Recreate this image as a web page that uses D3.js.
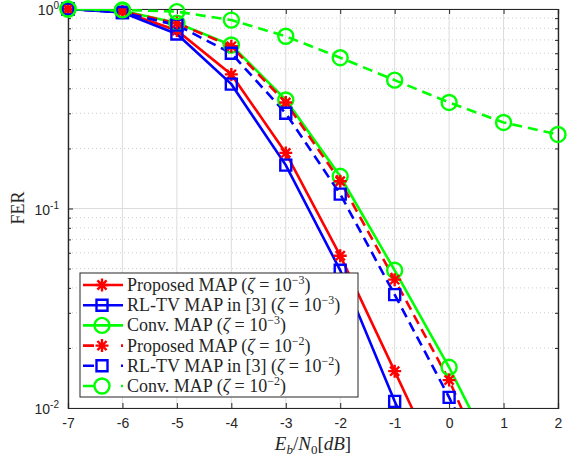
<!DOCTYPE html>
<html>
<head>
<meta charset="utf-8">
<script src="https://cdn.jsdelivr.net/npm/d3@7"></script>
<style>
  body { margin: 0; background: #fff; }
  svg { display: block; }
</style>
</head>
<body>
<div id="canvas"></div>
<script>
// E_b/N_0 values (dB)
var snrShort = [-7, -6, -5, -4, -3, -2, -1, 0];
var snrLong = [-7, -6, -5, -4, -3, -2, -1, 0, 1];
var snrConv = [-7, -6, -5, -4, -3, -2, -1, 0, 1, 2];

// FER, zeta = 1e-3 (solid)
var propA = [1.0, 0.97, 0.78, 0.47, 0.19, 0.058, 0.0153, 0.0040];
var rltvA = [1.0, 0.96, 0.75, 0.42, 0.165, 0.049, 0.0108, 0.0027];
var convA = [1.0, 0.98, 0.85, 0.66, 0.35, 0.145, 0.049, 0.016, 0.0046];
// FER, zeta = 1e-2 (dashed)
var propB = [1.0, 0.97, 0.85, 0.65, 0.34, 0.137, 0.044, 0.0138, 0.0033];
var rltvB = [1.0, 0.96, 0.83, 0.60, 0.30, 0.118, 0.037, 0.0113, 0.0032];
var convB = [1.0, 0.99, 0.97, 0.88, 0.73, 0.57, 0.44, 0.34, 0.27, 0.235];

var xTicks = [-7, -6, -5, -4, -3, -2, -1, 0, 1, 2];
var yTicks = [0.01, 0.1, 1];
var yTickExp = ['-2', '-1', '0'];

var series = [
    {name: 'Proposed MAP', exp: '3', x: snrShort, y: propA, color: '#ff0000', dash: null, marker: 'star'},
    {name: 'RL-TV MAP in [3]', exp: '3', x: snrShort, y: rltvA, color: '#0000ff', dash: null, marker: 'square'},
    {name: 'Conv. MAP', exp: '3', x: snrLong, y: convA, color: '#00ff00', dash: null, marker: 'circle'},
    {name: 'Proposed MAP', exp: '2', x: snrLong, y: propB, color: '#ff0000', dash: '10,6', marker: 'star'},
    {name: 'RL-TV MAP in [3]', exp: '2', x: snrLong, y: rltvB, color: '#0000ff', dash: '10,6', marker: 'square'},
    {name: 'Conv. MAP', exp: '2', x: snrConv, y: convB, color: '#00ff00', dash: '10,6', marker: 'circle'}
];

var W = 575, H = 459;
var pLeft = 68, pRight = 558, pTop = 9, pBottom = 408;
var axisColor = '#262626';
var gridColor = '#dcdcdc';

var svg = d3.select('#canvas').append('svg')
    .attr('width', W)
    .attr('height', H);

var x = d3.scaleLinear().domain([-7, 2]).range([pLeft, pRight]);
var y = d3.scaleLog().domain([0.01, 1]).range([pBottom, pTop]);

// minor grid (dotted)
var minor = [];
[0.01, 0.1].forEach(function(d) {
    for (var k = 2; k <= 9; k++) minor.push(d * k);
});

svg.append('g').selectAll('line')
    .data(minor)
    .enter().append('line')
    .attr('x1', pLeft).attr('x2', pRight)
    .attr('y1', function(d) { return y(d); })
    .attr('y2', function(d) { return y(d); })
    .attr('stroke', '#cfcfcf')
    .attr('stroke-width', 1)
    .attr('stroke-dasharray', '1,3');

// major grid
svg.append('g').selectAll('line')
    .data(xTicks)
    .enter().append('line')
    .attr('x1', function(d) { return x(d); })
    .attr('x2', function(d) { return x(d); })
    .attr('y1', pTop).attr('y2', pBottom)
    .attr('stroke', gridColor)
    .attr('stroke-width', 1);

svg.append('g').selectAll('line')
    .data(yTicks)
    .enter().append('line')
    .attr('x1', pLeft).attr('x2', pRight)
    .attr('y1', function(d) { return y(d); })
    .attr('y2', function(d) { return y(d); })
    .attr('stroke', gridColor)
    .attr('stroke-width', 1);

// axes with inward ticks
var xAxis = svg.append('g')
    .attr('transform', 'translate(0,' + pBottom + ')')
    .call(d3.axisBottom(x).tickValues(xTicks).tickSize(-5).tickPadding(10)
        .tickFormat(function(d) { return String(d); }));
xAxis.selectAll('text')
    .attr('font-family', 'Liberation Sans, Arial, sans-serif')
    .attr('font-size', '14px')
    .attr('fill', axisColor);

svg.append('g')
    .attr('transform', 'translate(0,' + pTop + ')')
    .call(d3.axisTop(x).tickValues(xTicks).tickSize(-5).tickFormat(''));

svg.append('g')
    .attr('transform', 'translate(' + pLeft + ',0)')
    .call(d3.axisLeft(y).tickValues(yTicks).tickSize(-5).tickFormat(''));

svg.append('g')
    .attr('transform', 'translate(' + pLeft + ',0)')
    .call(d3.axisLeft(y).tickValues(minor).tickSize(-3).tickFormat(''));

svg.append('g')
    .attr('transform', 'translate(' + pRight + ',0)')
    .call(d3.axisRight(y).tickValues(yTicks).tickSize(-5).tickFormat(''));

svg.append('g')
    .attr('transform', 'translate(' + pRight + ',0)')
    .call(d3.axisRight(y).tickValues(minor).tickSize(-3).tickFormat(''));

svg.selectAll('.domain').attr('stroke', axisColor).attr('stroke-width', 1.2);
svg.selectAll('.tick line').attr('stroke', axisColor);

// y tick labels 10^n
var yLab = svg.append('g');
yTicks.forEach(function(d, i) {
    var t = yLab.append('text')
        .attr('x', pLeft - 9)
        .attr('y', y(d) + 6)
        .attr('text-anchor', 'end')
        .attr('font-family', 'Liberation Sans, Arial, sans-serif')
        .attr('font-size', '14px')
        .attr('fill', axisColor);
    t.append('tspan').text('10');
    t.append('tspan')
        .attr('dy', -6)
        .attr('font-size', '10px')
        .text(yTickExp[i]);
});

// clip for lines
svg.append('clipPath').attr('id', 'plotclip')
    .append('rect')
    .attr('x', pLeft).attr('y', pTop)
    .attr('width', pRight - pLeft).attr('height', pBottom - pTop);

var line = d3.line()
    .x(function(d) { return x(d[0]); })
    .y(function(d) { return y(d[1]); });

function markerPath(type) {
    if (type === 'star') {
        var r = 6.5, s = 4.6;
        return 'M' + (-r) + ',0L' + r + ',0M0,' + (-r) + 'L0,' + r +
            'M' + (-s) + ',' + (-s) + 'L' + s + ',' + s +
            'M' + (-s) + ',' + s + 'L' + s + ',' + (-s);
    }
    if (type === 'square') {
        return 'M-5.5,-5.5H5.5V5.5H-5.5Z';
    }
    return d3.arc()({innerRadius: 0, outerRadius: 7.5, startAngle: 0, endAngle: 2 * Math.PI});
}

var lines = svg.append('g').attr('clip-path', 'url(#plotclip)');

series.forEach(function(s) {
    var pts = s.x.map(function(v, i) { return [v, s.y[i]]; });
    lines.append('path')
        .datum(pts)
        .attr('d', line)
        .attr('fill', 'none')
        .attr('stroke', s.color)
        .attr('stroke-width', 2.6)
        .attr('stroke-dasharray', s.dash);
});

var marks = svg.append('g');
series.forEach(function(s) {
    var pts = s.x.map(function(v, i) { return [v, s.y[i]]; })
        .filter(function(d) { return d[1] >= 0.0099; });
    marks.selectAll(null)
        .data(pts)
        .enter().append('path')
        .attr('transform', function(d) {
            return 'translate(' + x(d[0]) + ',' + y(d[1]) + ')';
        })
        .attr('d', markerPath(s.marker))
        .attr('fill', 'none')
        .attr('stroke', s.color)
        .attr('stroke-width', s.marker === 'star' ? 2.4 : 2.4);
});

// legend
var lg = svg.append('g');
var lgX = 80, lgY = 273, lgW = 278, lgH = 124, rowH = 20.2;
lg.append('rect')
    .attr('x', lgX).attr('y', lgY)
    .attr('width', lgW).attr('height', lgH)
    .attr('fill', '#fff')
    .attr('stroke', axisColor)
    .attr('stroke-width', 1);

series.forEach(function(s, i) {
    var cy = lgY + 12 + i * rowH;
    lg.append('line')
        .attr('x1', lgX + 3).attr('x2', lgX + 43)
        .attr('y1', cy).attr('y2', cy)
        .attr('stroke', s.color)
        .attr('stroke-width', 2.6)
        .attr('stroke-dasharray', s.dash ? '11,27,2' : null);
    lg.append('path')
        .attr('transform', 'translate(' + (lgX + 22) + ',' + cy + ')')
        .attr('d', markerPath(s.marker))
        .attr('fill', 'none')
        .attr('stroke', s.color)
        .attr('stroke-width', 2.4);
    var t = lg.append('text')
        .attr('x', lgX + 47)
        .attr('y', cy + 6)
        .attr('font-family', 'Liberation Serif, Times New Roman, serif')
        .attr('font-size', '18px')
        .attr('fill', axisColor);
    t.append('tspan').text(s.name + ' (');
    t.append('tspan').attr('font-style', 'italic').text('ζ');
    t.append('tspan').text(' = 10');
    t.append('tspan').attr('dy', -7).attr('font-size', '12px').text('−' + s.exp);
    t.append('tspan').attr('dy', 7).text(')');
});

// axis titles
var xt = svg.append('text')
    .attr('x', 313)
    .attr('y', 450)
    .attr('text-anchor', 'middle')
    .attr('font-family', 'Liberation Serif, Times New Roman, serif')
    .attr('font-size', '19px')
    .attr('fill', axisColor);
xt.append('tspan').attr('font-style', 'italic').text('E');
xt.append('tspan').attr('font-style', 'italic').attr('font-size', '13px').attr('dy', 4).text('b');
xt.append('tspan').attr('dy', -4).text('/');
xt.append('tspan').attr('font-style', 'italic').text('N');
xt.append('tspan').attr('font-size', '13px').attr('dy', 4).text('0');
xt.append('tspan').attr('dy', -4).text('[');
xt.append('tspan').attr('font-style', 'italic').text('dB');
xt.append('tspan').text(']');

svg.append('text')
    .attr('transform', 'translate(24,208) rotate(-90)')
    .attr('text-anchor', 'middle')
    .attr('font-family', 'Liberation Serif, Times New Roman, serif')
    .attr('font-size', '18px')
    .attr('fill', axisColor)
    .text('FER');
</script>
</body>
</html>
